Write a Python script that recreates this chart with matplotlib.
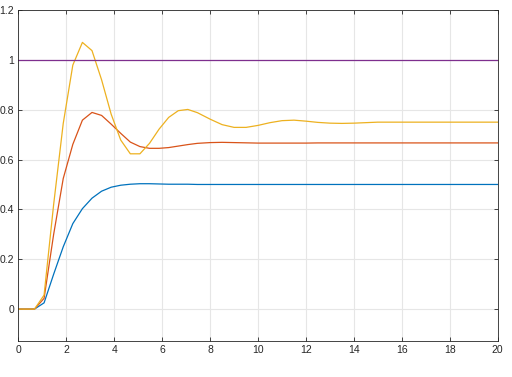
import matplotlib.pyplot as plt
from matplotlib.ticker import FuncFormatter

# step responses
t_fast = [0, 0.67, 1.07, 1.47, 1.87, 2.27, 2.67, 3.07, 3.47, 3.87, 4.27, 4.67,
          5.07, 5.47, 5.87, 6.27, 6.67, 7.07, 7.47]
t_tail = [8, 8.5, 9, 9.5, 10, 10.5, 11, 11.5, 12, 12.5, 13, 13.5, 14, 15, 16, 18, 20]
t = t_fast + t_tail

blue = [0, 0, 0.025, 0.14, 0.25, 0.343, 0.403, 0.445, 0.473, 0.489, 0.497, 0.501,
        0.503, 0.503, 0.502, 0.501, 0.501, 0.501, 0.5,
        0.5, 0.5, 0.5, 0.5, 0.5, 0.5, 0.5, 0.5, 0.5, 0.5, 0.5, 0.5, 0.5, 0.5, 0.5, 0.5, 0.5]
red = [0, 0, 0.043, 0.30, 0.524, 0.661, 0.758, 0.789, 0.777, 0.742, 0.705, 0.670,
       0.652, 0.645, 0.645, 0.648, 0.654, 0.660, 0.665,
       0.668, 0.669, 0.668, 0.667, 0.666, 0.666, 0.666, 0.666, 0.666, 0.6667, 0.6667,
       0.6667, 0.6667, 0.6667, 0.6667, 0.6667, 0.6667]
yellow = [0, 0, 0.056, 0.42, 0.745, 0.979, 1.07, 1.037, 0.92, 0.782, 0.678, 0.623,
          0.623, 0.665, 0.722, 0.769, 0.796, 0.801, 0.788,
          0.762, 0.740, 0.729, 0.729, 0.737, 0.748, 0.756, 0.758, 0.754, 0.749, 0.746,
          0.745, 0.746, 0.75, 0.75, 0.75, 0.75]
reference = [1] * len(t)

fig = plt.figure(figsize=(5.12, 3.77), dpi=100)
ax = fig.add_axes([0.036, 0.0955, 0.936, 0.878])

ax.plot(t, blue, color='#0072BD', lw=0.9)
ax.plot(t, red, color='#D95319', lw=0.9)
ax.plot(t, yellow, color='#EDB120', lw=0.9)
ax.plot(t, reference, color='#7E2F8E', lw=0.9)

ax.set_xlim(0, 20)
ax.set_ylim(-0.128, 1.2)
ax.set_xticks(range(0, 21, 2))
ax.set_yticks([0, 0.2, 0.4, 0.6, 0.8, 1, 1.2])
ax.yaxis.set_major_formatter(FuncFormatter(lambda v, p: f'{v:g}'))

ax.grid(True, color='#e6e6e6', lw=0.8)
ax.set_axisbelow(True)
for s in ax.spines.values():
    s.set_color('#262626')
    s.set_linewidth(0.6)
ax.tick_params(direction='in', length=3, width=0.6, colors='#262626',
               labelsize=7.5, top=True, right=True, pad=3)
for lab in ax.get_xticklabels() + ax.get_yticklabels():
    lab.set_fontfamily('Liberation Sans')

plt.savefig('out.png', dpi=100)
